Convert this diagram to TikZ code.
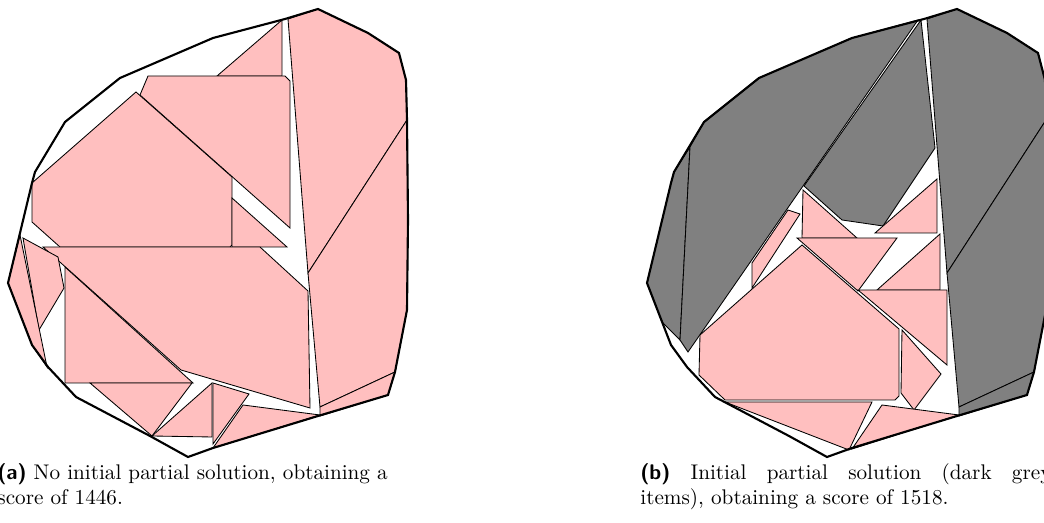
\documentclass[tikz,border=0pt]{standalone}
\usepackage{tikz}
\definecolor{itempink}{RGB}{255,191,191}
\definecolor{fixedgrey}{RGB}{128,128,128}
\tikzset{
  container/.style={draw=black, line width=1pt, line join=miter},
  item/.style={draw=black, fill=itempink, line width=0.4pt},
  fixed/.style={draw=black, fill=fixedgrey, line width=0.4pt},
  subcap/.style={anchor=north west, inner sep=0pt, text width=194pt,
                 align=justify, font=\normalsize},
}
% outline of the bin, shared by both layouts
\newcommand{\binoutline}{(318,9) -- (368,33) -- (399,53) -- (406,80) -- (407,120)
  -- (408,220) -- (407,310) -- (395,372) -- (388,395) -- (318,416) -- (213,448)
  -- (188,457) -- (150,436) -- (76,397) -- (48,367) -- (32,345) -- (8,283)
  -- (32,183) -- (35,172) -- (65,122) -- (120,78) -- (213,38) -- (285,19) -- cycle}

\begin{document}
\begin{tikzpicture}[x=0.472pt, y=-0.472pt]
  \useasboundingbox (0,0) rectangle (1044,523);
  \clip (0,0) rectangle (1044,523);

  % ─── (a) no initial partial solution ───────────────────────────────
  \draw[item] (217,76) -- (282,20) -- (282,76) -- cycle;
  \draw[item] (148,76) -- (285,76) -- (290,81) -- (290,228) -- (140,95) -- cycle;
  \draw[item] (288,19) -- (318,9) -- (368,33) -- (399,53) -- (406,80) -- (407,120) -- (308,273) -- cycle;
  \draw[item] (308,273) -- (407,120) -- (408,220) -- (407,310) -- (395,372) -- (320,407) -- cycle;
  \draw[item] (320,407) -- (395,372) -- (388,395) -- (320,416) -- cycle;
  \draw[item] (136,92) -- (32,183) -- (32,222) -- (60,247) -- (230,247) -- (232,245) -- (232,177) -- cycle;
  \draw[item] (232,198) -- (232,247) -- (287,247) -- cycle;
  \draw[item] (43,247) -- (260,247) -- (308,291) -- (310,408) -- (181,370) -- cycle;
  \draw[item] (65,267) -- (65,383) -- (193,383) -- cycle;
  \draw[item] (23,238) -- (58,257) -- (64,288) -- (39,330) -- cycle;
  \draw[item] (20,235) -- (8,283) -- (32,345) -- (47,367) -- cycle;
  \draw[item] (90,383) -- (192,383) -- (152,436) -- cycle;
  \draw[item] (152,436) -- (212,383) -- (212,437) -- cycle;
  \draw[item] (213,383) -- (249,394) -- (213,444) -- cycle;
  \draw[item] (243,405) -- (320,415) -- (213,448) -- cycle;
  \draw[container] \binoutline;

  \node[subcap] (capA) at (-3,463)
    {\textsf{\textbf{(a)}} No initial partial solution, obtaining a\newline score of 1446.};

  % ─── (b) with initial partial solution ─────────────────────────────
  \draw[fixed] (690,147) -- (674,172) -- (671,183) -- (647,283) -- (662,322) -- (680,340) -- cycle;
  \draw[fixed] (690,147) -- (704,122) -- (759,78) -- (852,38) -- (918,20) -- (688,352) -- (680,340) -- cycle;
  \draw[fixed] (921,20) -- (804,186) -- (842,220) -- (883,226) -- (935,148) -- cycle;
  \begin{scope}[shift={(639,0)}]
    \draw[fixed] (288,19) -- (318,9) -- (368,33) -- (399,53) -- (406,80) -- (407,120) -- (308,273) -- cycle;
    \draw[fixed] (308,273) -- (407,120) -- (408,220) -- (407,310) -- (395,372) -- (320,407) -- cycle;
    \draw[fixed] (320,407) -- (395,372) -- (388,395) -- (320,416) -- cycle;
  \end{scope}

  \draw[item] (788,210) -- (800,214) -- (752,288) -- (752,263) -- cycle;
  \draw[item] (803,190) -- (802,238) -- (857,238) -- cycle;
  \draw[item] (937,179) -- (937,233) -- (875,233) -- cycle;
  \draw[item] (797,238) -- (897,238) -- (858,291) -- cycle;
  \draw[item] (940,234) -- (940,290) -- (877,290) -- cycle;
  \draw[item] (802,245) -- (700,335) -- (699,375) -- (725,400) -- (895,400) -- (899,396) -- (899,329) -- cycle;
  \draw[item] (858,290) -- (947,290) -- (947,365) -- cycle;
  \draw[item] (902,330) -- (941,374) -- (914,410) -- (901,393) -- cycle;
  \draw[item] (725,402) -- (872,402) -- (849,450) -- cycle;
  \draw[item] (882,405) -- (959,415) -- (852,449) -- cycle;
  \begin{scope}[shift={(639,0)}]
    \draw[container] \binoutline;
  \end{scope}

  \node[subcap] (capB) at (640,463)
    {\textsf{\textbf{(b)}} Initial partial solution (dark grey\linebreak{} items), obtaining a score of 1518.};
\end{tikzpicture}
\end{document}
